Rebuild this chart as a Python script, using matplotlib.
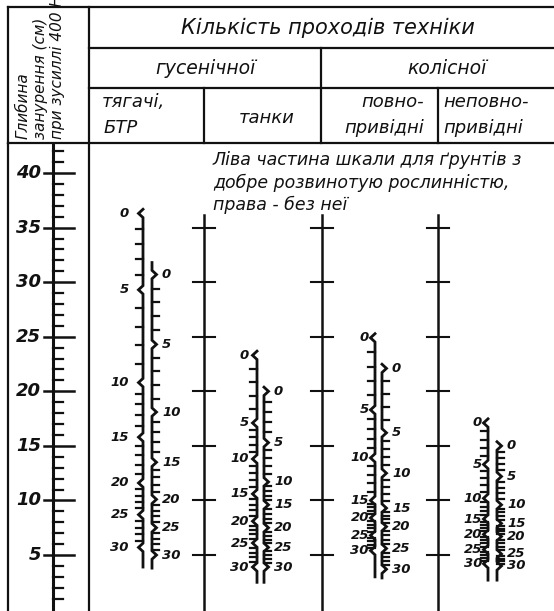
import numpy as np
import matplotlib
matplotlib.use('Agg')
import matplotlib.pyplot as plt

# ── Data: depth (cm) of the marks 0..30 passes on each scale ───────────
# left scale = soil with well developed vegetation, right scale = bare soil
PASSES = [0, 5, 10, 15, 20, 25, 30]
TRACTOR_VEG = [36.3, 29.3, 20.8, 15.8, 11.6, 8.7, 5.7]
TRACTOR_BARE = [30.7, 24.3, 18.1, 13.5, 10.1, 7.5, 5.0]
TANK_VEG = [23.3, 17.1, 13.8, 10.6, 8.1, 6.1, 3.9]
TANK_BARE = [20.0, 15.3, 11.7, 9.6, 7.5, 5.7, 3.9]
AWD_VEG = [24.9, 18.3, 13.9, 10.0, 8.4, 6.8, 5.4]
AWD_BARE = [22.1, 16.2, 12.5, 9.3, 7.6, 5.6, 3.7]
PART_VEG = [17.1, 13.3, 10.2, 8.3, 6.9, 5.5, 4.2]
PART_BARE = [15.0, 12.2, 9.6, 7.9, 6.7, 5.1, 4.0]

DEPTH_MAJOR = [5, 10, 15, 20, 25, 30, 35, 40]
DEPTH_MINOR = [d for d in range(0, 43) if d % 5 != 0]
GUIDE_TICKS = [5, 10, 15, 20, 25, 30, 35]

TITLE = "Кількість проходів техніки"
GROUPS = ["гусенічної", "колісної"]
Y_LABEL = ["Глибина", "занурення (см)", "при зусиллі 400 Н"]
NOTE = ["Ліва частина шкали для ґрунтів з",
        "добре розвинотую рослинністю,",
        "права - без неї"]

# ── Layout (pixels) ────────────────────────────────────────────────────
W, H = 554, 611
HEAD_H = 143
PX_PER_CM = 10.914
Y0 = 609.6                     # pixel row of depth 0

fig = plt.figure(figsize=(W / 100, H / 100), dpi=100)
fig.patch.set_facecolor("white")

hax = fig.add_axes([0, (H - HEAD_H) / H, 1, HEAD_H / H])
hax.set_xlim(0, W)
hax.set_ylim(HEAD_H, 0)
hax.axis("off")

bax = fig.add_axes([0, 0, 1, (H - HEAD_H) / H])
bax.set_xlim(0, W)
bax.set_ylim((Y0 - H) / PX_PER_CM, (Y0 - HEAD_H) / PX_PER_CM)
bax.axis("off")

LC = "#111111"
FS_IT = dict(style="italic", color=LC)

# ── Header table ───────────────────────────────────────────────────────
lw = 1.6
hax.plot([8, W], [7, 7], color=LC, lw=lw)
hax.plot([89, W], [48, 48], color=LC, lw=lw)
hax.plot([89, W], [88, 88], color=LC, lw=lw)
hax.plot([8, W], [HEAD_H, HEAD_H], color=LC, lw=lw, clip_on=False)
hax.plot([8, 8], [7, HEAD_H], color=LC, lw=lw, clip_on=False)
hax.plot([89, 89], [7, HEAD_H], color=LC, lw=lw, clip_on=False)
hax.plot([321, 321], [48, HEAD_H], color=LC, lw=lw, clip_on=False)
hax.plot([204, 204], [88, HEAD_H], color=LC, lw=lw, clip_on=False)
hax.plot([438, 438], [88, HEAD_H], color=LC, lw=lw, clip_on=False)

hax.text(328, 28, TITLE, ha="center", va="center", fontsize=15, **FS_IT)
hax.text(205, 68, GROUPS[0], ha="center", va="center", fontsize=13.5, **FS_IT)
hax.text(447, 68, GROUPS[1], ha="center", va="center", fontsize=13.5, **FS_IT)
hax.text(102, 102, "тягачі,", ha="left", va="center", fontsize=13, **FS_IT)
hax.text(104, 128, "БТР", ha="left", va="center", fontsize=13, **FS_IT)
hax.text(267, 118, "танки", ha="center", va="center", fontsize=13, **FS_IT)
hax.text(424, 102, "повно-", ha="right", va="center", fontsize=13, **FS_IT)
hax.text(424, 128, "привідні", ha="right", va="center", fontsize=13, **FS_IT)
hax.text(443, 102, "неповно-", ha="left", va="center", fontsize=13, **FS_IT)
hax.text(443, 128, "привідні", ha="left", va="center", fontsize=13, **FS_IT)

for xc, line in zip([23, 40, 57], Y_LABEL):
    t = hax.text(xc, 139, line, ha="left", va="center", rotation=90,
                 rotation_mode="anchor", fontsize=11, **FS_IT)
    t.set_clip_on(True)

# ── Body: depth axis ──────────────────────────────────────────────────
top_d = (Y0 - HEAD_H) / PX_PER_CM
bot_d = (Y0 - H) / PX_PER_CM
bax.plot([8, 8], [bot_d, top_d], color=LC, lw=lw)
bax.plot([89, 89], [bot_d, top_d], color=LC, lw=lw)
bax.plot([53, 53], [bot_d, top_d], color=LC, lw=2.2)
for d in DEPTH_MINOR:
    bax.plot([53, 63], [d, d], color=LC, lw=1.6)
for d in DEPTH_MAJOR:
    bax.plot([44, 74], [d, d], color=LC, lw=1.8)
    bax.text(41, d, str(d), ha="right", va="center", fontsize=13,
             fontweight="bold", **FS_IT)

# guide lines below the column borders
guide_top = (Y0 - 215) / PX_PER_CM
for gx in [204, 322, 438]:
    bax.plot([gx, gx], [bot_d, guide_top], color=LC, lw=1.8)
    for d in GUIDE_TICKS:
        bax.plot([gx - 11, gx + 11], [d, d], color=LC, lw=1.5)

# note
for i, line in enumerate(NOTE):
    bax.text(213, (Y0 - (160 + 22.5 * i)) / PX_PER_CM, line, ha="left",
             va="center", fontsize=12.5, **FS_IT)


# ── Paired scales ─────────────────────────────────────────────────────
def draw_scale(x, depths, side, label_off, top_extra, bottom_extra):
    h = 0.38
    w = 4.5
    marks = sorted(zip(PASSES, depths), key=lambda p: -p[1])
    xs = [x]
    ys = [max(depths[0] + h, depths[0] + top_extra)]
    for n, d in marks:
        xs += [x, x + side * w, x]
        ys += [d + h, d, d - h]
    xs.append(x)
    ys.append(depths[-1] - bottom_extra)
    bax.plot(xs, ys, color=LC, lw=2.0, solid_joinstyle="miter")
    for n in range(1, PASSES[-1]):
        if n % 5 == 0:
            continue
        d = np.interp(n, PASSES, depths)
        bax.plot([x, x + side * 7], [d, d], color=LC, lw=1.6)
    for n, d in zip(PASSES, depths):
        bax.text(x + side * label_off, d, str(n),
                 ha="right" if side < 0 else "left", va="center",
                 fontsize=9.5, fontweight="bold", **FS_IT)


draw_scale(143, TRACTOR_VEG, -1, 14, 0.0, 1.8)
draw_scale(152, TRACTOR_BARE, 1, 10, 1.1, 1.2)
draw_scale(257, TANK_VEG, -1, 8, 0.0, 1.4)
draw_scale(264, TANK_BARE, 1, 10, 0.3, 1.4)
draw_scale(375, AWD_VEG, -1, 6, 0.0, 2.4)
draw_scale(382, AWD_BARE, 1, 10, 0.3, 0.8)
draw_scale(488, PART_VEG, -1, 6, 0.0, 1.5)
draw_scale(497, PART_BARE, 1, 10, 0.3, 1.3)

fig.savefig("out.png", dpi=100, facecolor="white")
